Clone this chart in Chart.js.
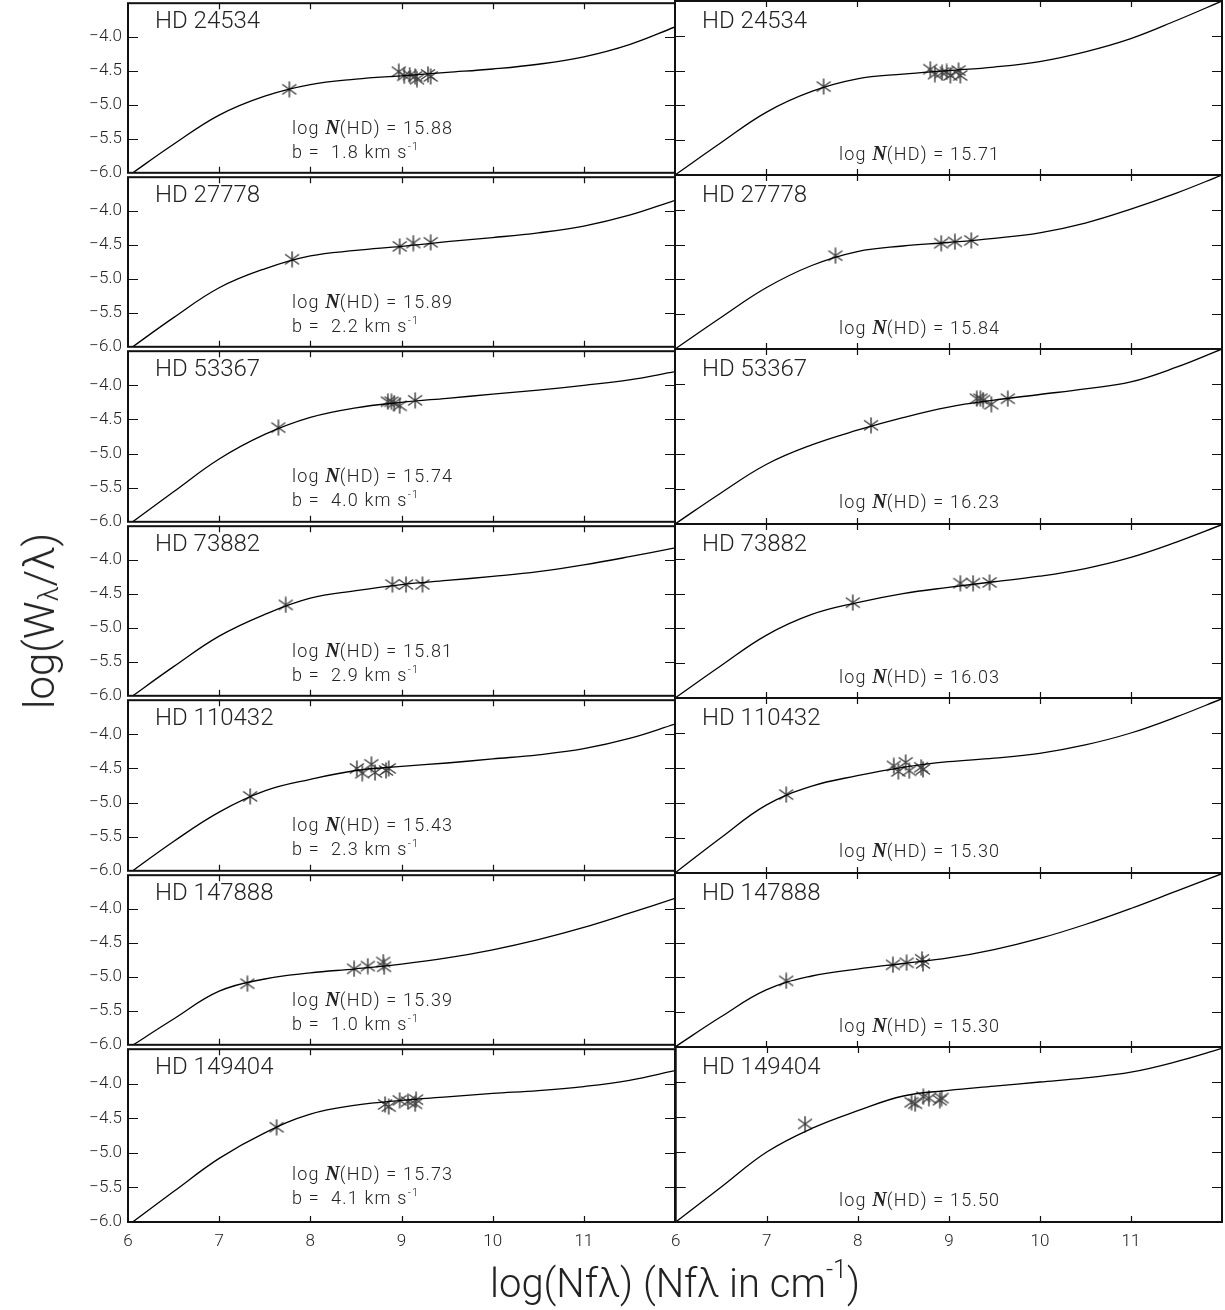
<!DOCTYPE html>
<html><head><meta charset="utf-8">
<script src="https://cdn.jsdelivr.net/npm/chart.js@4.4.0/dist/chart.umd.min.js"></script>
<style>
body{margin:0;background:#fff;width:1225px;height:1310px;position:relative;overflow:hidden;font-family:Roboto,"DejaVu Sans",sans-serif;}
canvas{position:absolute;}
.lbl{position:absolute;white-space:pre;color:#222;font-weight:300;line-height:1;z-index:5;}
.nm{font-size:24px;}
.an{font-size:18px;letter-spacing:1.2px;}
.an i{font-family:"Liberation Serif",serif;font-weight:bold;font-style:italic;font-size:20px;letter-spacing:0;}
.an sup{font-size:11px;vertical-align:8px;line-height:0;}
.title{position:absolute;white-space:nowrap;color:#222;font-weight:300;line-height:1;z-index:5;}
.title sub{font-size:27px;vertical-align:-4px;line-height:0;}
.title sup{font-size:25px;vertical-align:19px;line-height:0;}
</style></head><body>
<script>
// ---------------- data ----------------
const starNames = ['HD 24534','HD 27778','HD 53367','HD 73882','HD 110432','HD 147888','HD 149404'];
const leftLogN  = ['15.88','15.89','15.74','15.81','15.43','15.39','15.73'];
const leftB     = ['1.8','2.2','4.0','2.9','2.3','1.0','4.1'];
const rightLogN = ['15.71','15.84','16.23','16.03','15.30','15.30','15.50'];
const xTicks = [6,7,8,9,10,11,12];
const yTicks = [-6.0,-5.5,-5.0,-4.5,-4.0,-3.5];

// curve of growth, sampled at curveX
const curveX = [6,6.5,7,7.5,8,8.5,9,9.5,10,10.5,11,11.5,12];
const leftCurveY = [
  [-6.05,-5.58,-5.15,-4.87,-4.70,-4.62,-4.57,-4.52,-4.47,-4.40,-4.29,-4.11,-3.85],
  [-6.05,-5.57,-5.13,-4.85,-4.66,-4.58,-4.52,-4.45,-4.39,-4.32,-4.22,-4.06,-3.84],
  [-6.05,-5.56,-5.08,-4.72,-4.47,-4.33,-4.25,-4.19,-4.13,-4.07,-4.00,-3.92,-3.80],
  [-6.05,-5.57,-5.12,-4.80,-4.56,-4.45,-4.36,-4.30,-4.24,-4.17,-4.07,-3.95,-3.82],
  [-6.05,-5.57,-5.14,-4.83,-4.66,-4.53,-4.47,-4.42,-4.36,-4.30,-4.21,-4.06,-3.85],
  [-6.05,-5.62,-5.21,-5.03,-4.94,-4.88,-4.81,-4.72,-4.60,-4.45,-4.27,-4.06,-3.84],
  [-6.05,-5.56,-5.08,-4.71,-4.44,-4.31,-4.24,-4.19,-4.14,-4.10,-4.04,-3.95,-3.81]
];
const rightCurveY = [
  [-6.00,-5.54,-5.10,-4.80,-4.62,-4.55,-4.50,-4.45,-4.37,-4.23,-4.04,-3.78,-3.50],
  [-6.00,-5.55,-5.12,-4.80,-4.60,-4.52,-4.47,-4.41,-4.33,-4.19,-3.99,-3.76,-3.50],
  [-6.00,-5.56,-5.15,-4.87,-4.66,-4.48,-4.33,-4.23,-4.15,-4.07,-3.97,-3.76,-3.50],
  [-6.00,-5.54,-5.10,-4.80,-4.63,-4.50,-4.41,-4.33,-4.25,-4.14,-3.98,-3.76,-3.51],
  [-6.00,-5.50,-5.03,-4.76,-4.61,-4.49,-4.41,-4.36,-4.29,-4.17,-4.00,-3.77,-3.51],
  [-6.00,-5.57,-5.18,-4.98,-4.88,-4.80,-4.72,-4.60,-4.44,-4.24,-4.01,-3.76,-3.51],
  [-6.00,-5.50,-5.00,-4.66,-4.41,-4.20,-4.12,-4.06,-4.00,-3.94,-3.86,-3.71,-3.52]
];

// measured lines (asterisks)
const leftPtsX = [
  [7.77,8.97,9.03,9.09,9.15,9.17,9.29,9.32],
  [7.80,8.98,9.13,9.32],
  [7.65,8.85,8.89,8.92,8.98,9.15],
  [7.73,8.90,9.05,9.23],
  [7.34,8.51,8.57,8.67,8.71,8.83,8.86],
  [7.31,8.48,8.63,8.80,8.81],
  [7.63,8.82,8.86,8.98,9.07,9.15,9.16]
];
const leftPtsY = [
  [-4.77,-4.51,-4.57,-4.56,-4.58,-4.62,-4.55,-4.58],
  [-4.71,-4.52,-4.47,-4.46],
  [-4.62,-4.24,-4.24,-4.26,-4.30,-4.22],
  [-4.66,-4.36,-4.36,-4.36],
  [-4.91,-4.50,-4.57,-4.44,-4.56,-4.53,-4.50],
  [-5.10,-4.88,-4.84,-4.78,-4.85],
  [-4.63,-4.30,-4.33,-4.24,-4.26,-4.29,-4.23]
];
const rightPtsX = [
  [7.63,8.80,8.85,8.93,8.98,9.02,9.11,9.13],
  [7.76,8.92,9.07,9.25],
  [8.15,9.31,9.35,9.38,9.47,9.65],
  [7.95,9.13,9.27,9.45],
  [7.22,8.40,8.45,8.53,8.57,8.70,8.72],
  [7.22,8.39,8.54,8.71,8.72],
  [7.42,8.59,8.63,8.72,8.78,8.90,8.92]
];
const rightPtsY = [
  [-4.73,-4.48,-4.55,-4.53,-4.52,-4.57,-4.50,-4.57],
  [-4.66,-4.48,-4.46,-4.44],
  [-4.59,-4.21,-4.21,-4.23,-4.29,-4.21],
  [-4.63,-4.35,-4.35,-4.34],
  [-4.88,-4.47,-4.55,-4.42,-4.54,-4.49,-4.52],
  [-5.05,-4.82,-4.79,-4.74,-4.80],
  [-4.60,-4.29,-4.31,-4.21,-4.23,-4.26,-4.23]
];

// ---------------- layout ----------------
const colPlotL = [128, 675];
const plotW = 547;
const rowTops = [1,175,349,524,698,873,1047,1222];
const PAD = 14;
const TICKFONT = {family:'Roboto, "DejaVu Sans", sans-serif', size:17, weight:'300'};

function makeStar(){
  const c = document.createElement('canvas'); c.width = 16; c.height = 17;
  const g = c.getContext('2d'); g.strokeStyle = '#444'; g.lineWidth = 1.5;
  g.beginPath();
  g.moveTo(8,0.5); g.lineTo(8,16.5);
  g.moveTo(1,3.5); g.lineTo(15,13.5);
  g.moveTo(1,13.5); g.lineTo(15,3.5);
  g.stroke();
  return c;
}
const starImg = makeStar();

const framePlugin = {
  id:'frame',
  afterDatasetsDraw(chart){
    const {ctx, chartArea:a, scales} = chart;
    ctx.save();
    ctx.strokeStyle = '#111'; ctx.lineWidth = 1.2;
    ctx.beginPath();
    xTicks.slice(1,-1).forEach(v=>{
      const px = Math.round(scales.x.getPixelForValue(v))+0.5;
      ctx.moveTo(px,a.top); ctx.lineTo(px,a.top+6);
      ctx.moveTo(px,a.bottom); ctx.lineTo(px,a.bottom-6);
    });
    yTicks.slice(1,-1).forEach(v=>{
      const py = Math.round(scales.y.getPixelForValue(v))+0.5;
      ctx.moveTo(a.left,py); ctx.lineTo(a.left+10,py);
      ctx.moveTo(a.right,py); ctx.lineTo(a.right-10,py);
    });
    ctx.stroke();
    ctx.lineWidth = 2;
    ctx.strokeRect(a.left, a.top, a.right-a.left, a.bottom-a.top);
    ctx.restore();
  }
};

function addLabel(cls, left, top, html){
  const d = document.createElement('div');
  d.className = 'lbl ' + cls;
  d.style.left = left + 'px'; d.style.top = top + 'px';
  d.innerHTML = html;
  document.body.appendChild(d);
}

function makePanel(row, col){
  const isLeft = col === 0, isBottom = row === 6;
  const plotL = colPlotL[col], plotT = rowTops[row], plotH = rowTops[row+1]-rowTops[row];
  const padL = isLeft ? 128 : PAD, padR = PAD, padT = PAD, padB = isBottom ? 40 : PAD;
  const cv = document.createElement('canvas');
  cv.width = plotW + padL + padR; cv.height = plotH + padT + padB;
  cv.style.left = (plotL - padL) + 'px'; cv.style.top = (plotT - padT) + 'px';
  document.body.appendChild(cv);
  const cy = isLeft ? leftCurveY[row] : rightCurveY[row];
  const px = isLeft ? leftPtsX[row] : rightPtsX[row];
  const py = isLeft ? leftPtsY[row] : rightPtsY[row];
  new Chart(cv.getContext('2d'), {
    type:'line',
    data:{datasets:[
      {data: curveX.map((x,i)=>({x, y:cy[i]})), borderColor:'#000', borderWidth:1.3,
       pointRadius:0, tension:0.4, fill:false},
      {data: px.map((x,i)=>({x, y:py[i]})), showLine:false, pointStyle:starImg,
       pointRadius:8, borderColor:'#444', backgroundColor:'#444'}
    ]},
    options:{
      responsive:false, animation:false, events:[],
      layout:{padding:{left: isLeft?0:PAD, right:padR, top:padT, bottom: isBottom?0:PAD}},
      plugins:{legend:{display:false}, tooltip:{enabled:false}},
      scales:{
        x:{type:'linear', min:6, max:12, display:isBottom,
           afterFit: s => { if (isBottom) s.height = 40; },
           grid:{display:false, drawTicks:false}, border:{display:false},
           ticks:{stepSize:1, autoSkip:false, maxRotation:0, padding:10, color:'#222', font:TICKFONT,
                  callback: v => v === 12 ? '' : String(v)}},
        y:{type:'linear', min:-6, max:-3.5, display:isLeft,
           afterFit: s => { if (isLeft) s.width = 128; },
           grid:{display:false, drawTicks:false}, border:{display:false},
           ticks:{stepSize:0.5, autoSkip:false, padding:6, color:'#222', font:TICKFONT,
                  callback: v => v > -3.75 ? '' : '\u2212' + Math.abs(v).toFixed(1)}}
      }
    },
    plugins:[framePlugin]
  });
  // labels
  addLabel('nm', plotL + 27, plotT + 7, starNames[row]);
  const nLine = 'log <i>N</i>(HD) = ' + (isLeft ? leftLogN[row] : rightLogN[row]);
  if (isLeft){
    addLabel('an', plotL + 164, plotT + 116, nLine);
    addLabel('an', plotL + 164, plotT + 142, 'b =  ' + leftB[row] + ' km s<sup>-1</sup>');
  } else {
    addLabel('an', plotL + 164, plotT + 142, nLine);
  }
}

for (let r = 0; r < 7; r++){ makePanel(r,0); makePanel(r,1); }

// axis titles
const xt = document.createElement('div');
xt.className = 'title';
xt.style.fontSize = '40px';
xt.style.left = '675px'; xt.style.top = '1264px'; xt.style.transform = 'translateX(-50%)';
xt.innerHTML = 'log(Nf\u03bb) (Nf\u03bb in cm<sup>-1</sup>)';
document.body.appendChild(xt);
const yt = document.createElement('div');
yt.className = 'title';
yt.style.fontSize = '42px';
yt.style.left = '40px'; yt.style.top = '621px'; yt.style.transform = 'translate(-50%,-50%) rotate(-90deg)';
yt.innerHTML = 'log(W<sub>\u03bb</sub>/\u03bb)';
document.body.appendChild(yt);
</script>
</body></html>
